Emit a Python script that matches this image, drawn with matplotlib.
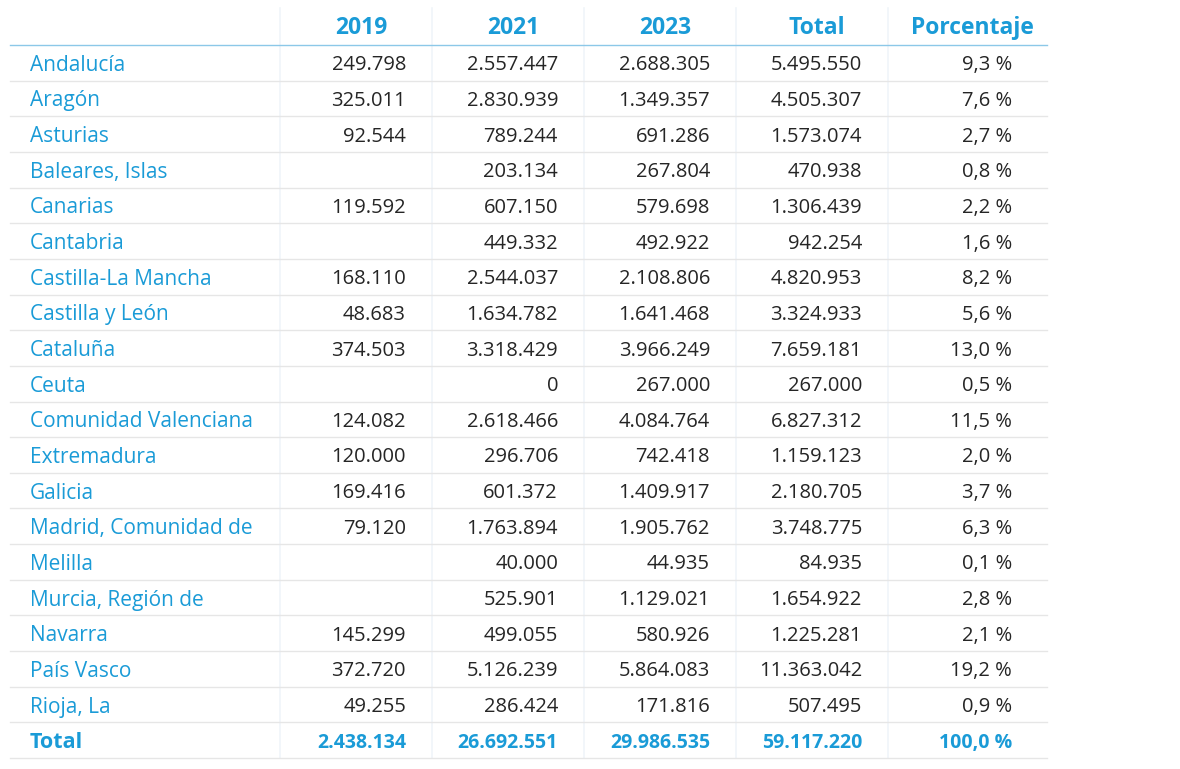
import matplotlib.pyplot as plt

regiones = ['Andalucía', 'Aragón', 'Asturias', 'Baleares, Islas', 'Canarias', 'Cantabria',
            'Castilla-La Mancha', 'Castilla y León', 'Cataluña', 'Ceuta',
            'Comunidad Valenciana', 'Extremadura', 'Galicia', 'Madrid, Comunidad de',
            'Melilla', 'Murcia, Región de', 'Navarra', 'País Vasco', 'Rioja, La']
v2019 = [249798, 325011, 92544, None, 119592, None, 168110, 48683, 374503, None,
         124082, 120000, 169416, 79120, None, None, 145299, 372720, 49255]
v2021 = [2557447, 2830939, 789244, 203134, 607150, 449332, 2544037, 1634782, 3318429, 0,
         2618466, 296706, 601372, 1763894, 40000, 525901, 499055, 5126239, 286424]
v2023 = [2688305, 1349357, 691286, 267804, 579698, 492922, 2108806, 1641468, 3966249, 267000,
         4084764, 742418, 1409917, 1905762, 44935, 1129021, 580926, 5864083, 171816]
total = [5495550, 4505307, 1573074, 470938, 1306439, 942254, 4820953, 3324933, 7659181, 267000,
         6827312, 1159123, 2180705, 3748775, 84935, 1654922, 1225281, 11363042, 507495]
porcentaje = [9.3, 7.6, 2.7, 0.8, 2.2, 1.6, 8.2, 5.6, 13.0, 0.5,
              11.5, 2.0, 3.7, 6.3, 0.1, 2.8, 2.1, 19.2, 0.9]
totales = [2438134, 26692551, 29986535, 59117220, 100.0]
cabecera = ['2019', '2021', '2023', 'Total', 'Porcentaje']

azul = '#1a9bd7'
plt.rcParams['font.family'] = ['Open Sans', 'DejaVu Sans']


def miles(v):
    if v is None:
        return ''
    return f'{v:,}'.replace(',', '.')


def pct(v):
    return f'{v:.1f} %'.replace('.', ',')


fig = plt.figure(figsize=(11.8, 7.69), dpi=100)
ax = fig.add_axes([0, 0, 1, 1])
ax.set_xlim(0, 1180)
ax.set_ylim(769, 0)
ax.axis('off')

x0, x1 = 10, 1047
cortes = [280, 432, 584, 736, 888]
derecha = [406, 558, 710, 862, 1012]
top, cab = 8, 45
alto = (758 - cab) / 20

for xc in cortes:
    ax.plot([xc, xc], [top, 758], color='#f0f5f9', lw=1.2)

ax.plot([x0, x1], [cab, cab], color='#8cc8e8', lw=1)
for i, h in enumerate(cabecera):
    xc = (cortes[i] + (cortes[i + 1] if i < 4 else x1)) / 2 + 5
    ax.text(xc, (top + cab) / 2 + 1.5, h, ha='center', va='center', fontsize=16.5,
            fontweight='bold', color=azul)

for r, reg in enumerate(regiones):
    yc = cab + alto * (r + 0.5) + 2.5
    ax.text(30, yc, reg, ha='left', va='center', fontsize=15, color=azul)
    vals = [miles(v2019[r]), miles(v2021[r]), miles(v2023[r]), miles(total[r]), pct(porcentaje[r])]
    for xr, s in zip(derecha, vals):
        ax.text(xr, yc, s, ha='right', va='center', fontsize=14.5, color='#252525')
    ax.plot([x0, x1], [cab + alto * (r + 1)] * 2, color='#e6e6e6', lw=1)

yc = cab + alto * 19.5 + 2.5
ax.text(30, yc, 'Total', ha='left', va='center', fontsize=15.5, fontweight='bold', color=azul)
fila = [miles(v) for v in totales[:4]] + [pct(totales[4])]
for xr, s in zip(derecha, fila):
    ax.text(xr, yc, s, ha='right', va='center', fontsize=14, fontweight='bold', color=azul)
ax.plot([x0, x1], [758, 758], color='#e6e6e6', lw=1)

fig.savefig('out.png', dpi=100)
